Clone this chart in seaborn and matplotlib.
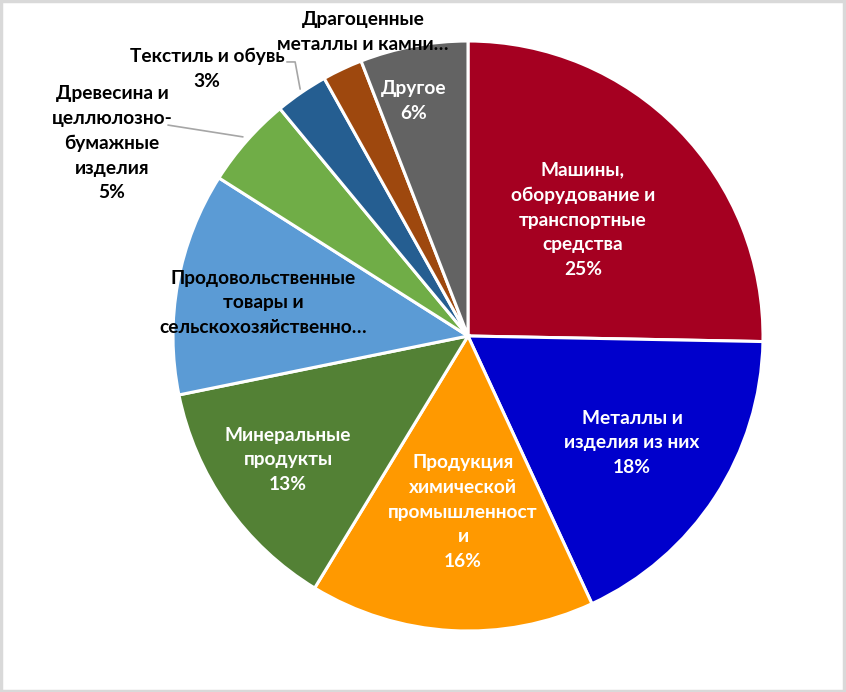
import matplotlib
matplotlib.use("Agg")
import matplotlib.pyplot as plt
import seaborn as sns
from matplotlib.patches import Rectangle

sns.set_theme(style="white")
plt.rcParams['font.family'] = ['Lato', 'Open Sans', 'DejaVu Sans']

categories = [
    "Машины,\nоборудование и\nтранспортные\nсредства",
    "Металлы и\nизделия из них",
    "Продукция\nхимической\nпромышленност\nи",
    "Минеральные\nпродукты",
    "Продовольственные\nтовары и\nсельскохозяйственно…",
    "Древесина и\nцеллюлозно-\nбумажные\nизделия",
    "Текстиль и обувь",
    "Драгоценные\nметаллы и камни…",
    "Другое",
]
values = [25.3, 17.8, 15.6, 13.1, 12.2, 5.0, 2.9, 2.2, 5.9]
percent_labels = ["25%", "18%", "16%", "13%", None, "5%", "3%", None, "6%"]
colors = ["#A50021", "#0000CC", "#FF9900", "#538135", "#5B9BD5",
          "#70AD47", "#255E91", "#9E480E", "#636363"]
text_colors = ["white", "white", "white", "white", "black",
               "black", "black", "black", "white"]

# label layout (axes data units, pie radius = 1)
label_pos = [(0.39, 0.394), (0.556, -0.362), (-0.017, -0.597), (-0.61, -0.42),
             (-0.695, 0.112), (-1.207, 0.654), (-0.885, 0.905), (-0.356, 1.03),
             (-0.183, 0.797)]

W, H = 846, 692
fig = plt.figure(figsize=(W / 100, H / 100), dpi=100)
cx, cy, R = 468, 336, 295
ax = fig.add_axes([(cx - R) / W, (H - cy - R) / H, 2 * R / W, 2 * R / H])

ax.pie(values, colors=colors, startangle=90, counterclock=False,
       wedgeprops=dict(edgecolor="white", linewidth=2.2))
ax.set_xlim(-1, 1)
ax.set_ylim(-1, 1)
ax.set_aspect("equal")
ax.axis("off")

for cat, pct, (x, y), tc in zip(categories, percent_labels, label_pos, text_colors):
    txt = cat if pct is None else f"{cat}\n{pct}"
    ax.text(x, y, txt, ha="center", va="center", color=tc, fontsize=13.8,
            fontweight="bold", linespacing=1.55, clip_on=False)

# leader lines
lead = "#A6A6A6"
ax.plot([-1.017, -0.763], [0.715, 0.675], color=lead, lw=1.2, clip_on=False)
ax.plot([-0.614, -0.586, -0.569], [0.929, 0.929, 0.837], color=lead, lw=1.2, clip_on=False)

fig.patches.append(Rectangle((0.001, 0.001), 0.997, 0.997, transform=fig.transFigure,
                             fill=False, edgecolor="#D9D9D9", linewidth=2.5))

fig.savefig("out.png", dpi=100)
